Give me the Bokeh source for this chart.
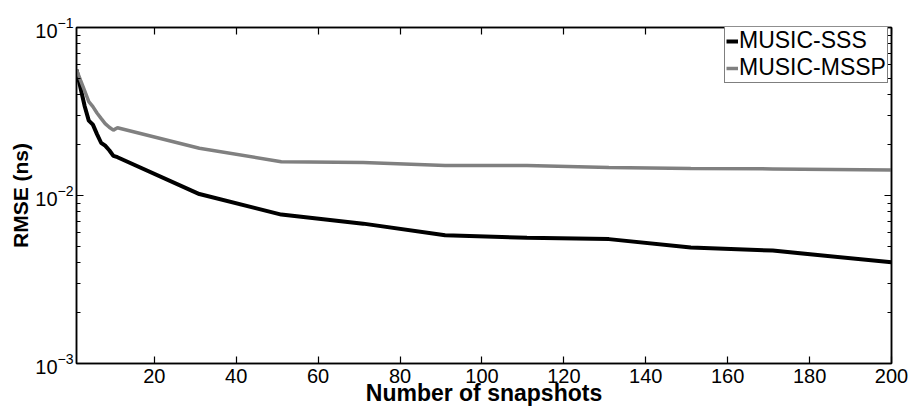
from bokeh.plotting import figure
from bokeh.models import (FixedTicker, LinearAxis, LogAxis, Legend, LegendItem,
                          Range1d, CustomJSTickFormatter, LogTickFormatter)
from bokeh.embed import file_html
from bokeh.resources import INLINE

# ---- data ----
snapshots = [1, 2, 3, 4, 5, 6, 7, 8, 9, 10, 11, 31, 51, 71, 91, 111, 131, 151, 171, 200]
rmse_sss = [0.056, 0.0435, 0.034, 0.0279, 0.0264, 0.0232, 0.0206, 0.0198, 0.0186, 0.0172,
            0.0169, 0.0102, 0.0077, 0.0068, 0.0058, 0.0056, 0.0055, 0.0049, 0.0047, 0.0040]
rmse_mssp = [0.056, 0.0484, 0.0419, 0.0362, 0.0338, 0.0310, 0.0288, 0.0268, 0.0255, 0.0245,
             0.0253, 0.0191, 0.0159, 0.0157, 0.0151, 0.0151, 0.0147, 0.0145, 0.0144, 0.0142]
series_names = ["MUSIC-SSS", "MUSIC-MSSP"]
x_ticks = [20, 40, 60, 80, 100, 120, 140, 160, 180, 200]
y_ticks = [0.001, 0.01, 0.1]
x_title = "Number of snapshots"
y_title = "RMSE (ns)"

FONT = "Liberation Sans"
W, H = 911, 410
ML, MR, MT, MB = 76, 20, 27, 47

y_minor = [k * 10.0 ** e for e in (-3, -2) for k in range(2, 10)]

p = figure(width=W, height=H, output_backend="svg", toolbar_location=None,
           x_range=Range1d(1, 200), y_range=Range1d(1e-3, 1e-1), y_axis_type="log",
           min_border_left=ML, min_border_right=MR, min_border_top=MT, min_border_bottom=MB,
           x_axis_location=None, y_axis_location=None)
p.grid.visible = False
p.outline_line_color = "black"
p.outline_line_width = 1.5
p.background_fill_color = "white"
p.border_fill_color = "white"

xt = FixedTicker(ticks=x_ticks, minor_ticks=[])
yt = FixedTicker(ticks=y_ticks, minor_ticks=y_minor)
blank = CustomJSTickFormatter(code="return '';")

def style_axis(ax, show_labels):
    ax.axis_line_color = "black"
    ax.axis_line_width = 1.5
    ax.major_tick_in = 7
    ax.major_tick_out = 0
    ax.minor_tick_in = 4
    ax.minor_tick_out = 0
    ax.major_tick_line_width = 1.2
    ax.minor_tick_line_width = 1.2
    ax.major_label_text_font = FONT
    ax.major_label_text_color = "black"
    ax.axis_label_text_font = FONT
    ax.axis_label_text_font_style = "bold"
    ax.axis_label_text_color = "black"
    ax.axis_label_text_font_size = "21px"
    if not show_labels:
        ax.formatter = blank
        ax.major_label_standoff = 0
        ax.major_label_text_font_size = "2px"

bx = LinearAxis(ticker=xt, axis_label=x_title)
style_axis(bx, True)
bx.major_label_text_font_size = "20px"
bx.major_label_standoff = 5
bx.axis_label_text_font_size = "23px"
bx.axis_label_standoff = -6
p.add_layout(bx, "below")

tx = LinearAxis(ticker=xt)
style_axis(tx, False)
p.add_layout(tx, "above")

ly = LogAxis(ticker=yt, formatter=LogTickFormatter(), axis_label=y_title)
style_axis(ly, True)
ly.major_label_text_font_size = "20px"
ly.major_label_standoff = 3
ly.axis_label_standoff = 0
p.add_layout(ly, "left")

ry = LogAxis(ticker=yt)
style_axis(ry, False)
p.add_layout(ry, "right")

r1 = p.line(snapshots, rmse_sss, line_color="black", line_width=4)
r2 = p.line(snapshots, rmse_mssp, line_color="#808080", line_width=3.5)

legend = Legend(items=[LegendItem(label=series_names[0], renderers=[r1]),
                       LegendItem(label=series_names[1], renderers=[r2])],
                location=(648, 280))
legend.label_text_font = FONT
legend.label_text_font_size = "23px"
legend.label_text_color = "black"
legend.glyph_width = 12
legend.glyph_height = 20
legend.label_standoff = 1
legend.label_height = 20
legend.padding = 1
legend.spacing = -2
legend.margin = 0
legend.border_line_color = "black"
legend.border_line_width = 1
legend.background_fill_color = "white"
legend.background_fill_alpha = 1
p.add_layout(legend, "center")

open("out.html", "w").write(file_html(p, INLINE))
